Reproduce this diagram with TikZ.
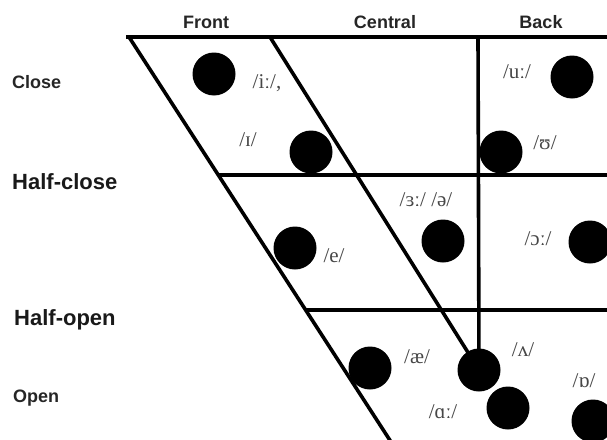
\documentclass[tikz,border=0pt]{standalone}
\usepackage{fontspec}
\setmainfont{Liberation Serif}
\newfontfamily\headfont{Liberation Sans}
\begin{document}
\begin{tikzpicture}[x=1pt,y=-1pt,
  vowel/.style={circle,fill=black,minimum size=43pt,inner sep=0pt},
  ipa/.style={font=\fontsize{21}{21}\selectfont,text=black!72,inner sep=0pt},
  colhead/.style={font=\headfont\bfseries\fontsize{18}{18}\selectfont,text=black!85,inner sep=0pt},
  rowsmall/.style={font=\headfont\bfseries\fontsize{18}{18}\selectfont,text=black!85,anchor=west,inner sep=0pt},
  rowlarge/.style={font=\headfont\bfseries\fontsize{22}{22}\selectfont,text=black!90,anchor=west,inner sep=0pt},
  gridline/.style={line width=3.6pt,line cap=butt}]
\useasboundingbox (0,0) rectangle (607,439);
\clip (0,0) rectangle (607,439);

% corner points of the vowel quadrilateral
\coordinate (topleft) at (126,37);
\coordinate (topright) at (612,37);
\coordinate (outerbot) at (393,445);
\coordinate (innertop) at (270,37);
\coordinate (backtop) at (478,37);
\coordinate (hcl) at (218,175);
\coordinate (hcr) at (612,175);
\coordinate (hol) at (306,310);
\coordinate (hor) at (612,310);

% vowel dots
\node[vowel] (i) at (214,74) {};
\node[vowel] (ih) at (311,152) {};
\node[vowel] (u) at (572,77) {};
\node[vowel] (uh) at (501,152) {};
\node[vowel] (schwa) at (443,241) {};
\node[vowel] (e) at (295,248) {};
\node[vowel] (o) at (590,242) {};
\node[vowel] (ae) at (370,368) {};
\node[vowel] (lam) at (479,370) {};
\node[vowel] (a) at (508,408) {};
\node[vowel] (oh) at (593,421) {};

% frame
\draw[gridline] (topleft) -- (topright);
\draw[gridline] (129,37) -- (outerbot);
\draw[gridline] (innertop) -- (lam.center);
\draw[gridline] (backtop) -- (lam.center);
\draw[gridline] (hcl) -- (hcr);
\draw[gridline] (hol) -- (hor);

% column headings
\node[colhead] (front) at (206,22) {Front};
\node[colhead] (central) at (385,22) {Central};
\node[colhead] (back) at (541,22) {Back};

% row headings
\node[rowsmall] (close) at (12,82) {Close};
\node[rowlarge] (halfclose) at (12,182) {Half-close};
\node[rowlarge] (halfopen) at (14,320) {Half-open};
\node[rowsmall] (open) at (13,398) {Open};

% phonetic symbols
\node[ipa] at (267,83) {/iː/,};
\node[ipa] at (248,140) {/ɪ/};
\node[ipa] at (517,72) {/uː/};
\node[ipa] at (545,143) {/ʊ/};
\node[ipa] at (426,200) {/ɜː/ /ə/};
\node[ipa] at (334,256) {/e/};
\node[ipa] at (538,239) {/ɔː/};
\node[ipa] at (417,357) {/æ/};
\node[ipa] at (523,350) {/ʌ/};
\node[ipa] at (584,381) {/ɒ/};
\node[ipa] at (443,412) {/ɑː/};
\end{tikzpicture}
\end{document}
